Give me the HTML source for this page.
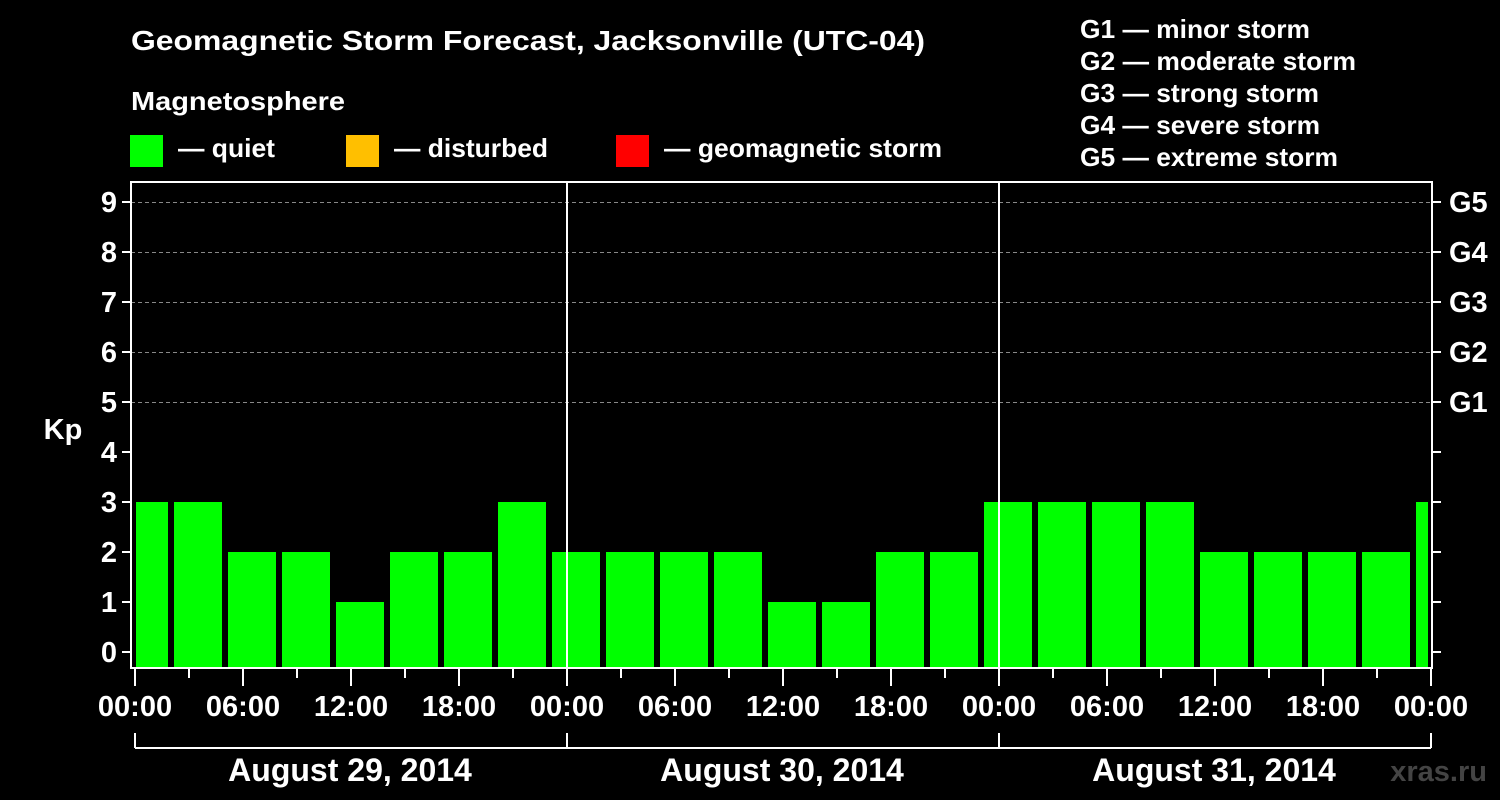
<!DOCTYPE html>
<html><head><meta charset="utf-8"><style>
html,body{margin:0;padding:0;background:#000;}
svg{display:block;font-family:"Liberation Sans",Arial,sans-serif;font-weight:bold;}
</style></head><body>
<svg width="1500" height="800" viewBox="0 0 1500 800">
<rect width="1500" height="800" fill="#000"/>
<g fill="#fff" lengthAdjust="spacingAndGlyphs">
<text x="131" y="50" font-size="28" textLength="794" lengthAdjust="spacingAndGlyphs">Geomagnetic Storm Forecast, Jacksonville (UTC-04)</text>
<text x="131" y="110" font-size="26" textLength="214" lengthAdjust="spacingAndGlyphs">Magnetosphere</text>
<text x="178" y="157" font-size="26" textLength="97" lengthAdjust="spacingAndGlyphs">— quiet</text>
<text x="394" y="157" font-size="26" textLength="154" lengthAdjust="spacingAndGlyphs">— disturbed</text>
<text x="664" y="157" font-size="26" textLength="278" lengthAdjust="spacingAndGlyphs">— geomagnetic storm</text>
<text x="1080" y="38" font-size="26" textLength="230" lengthAdjust="spacingAndGlyphs">G1 — minor storm</text>
<text x="1080" y="70" font-size="26" textLength="276" lengthAdjust="spacingAndGlyphs">G2 — moderate storm</text>
<text x="1080" y="102" font-size="26" textLength="239" lengthAdjust="spacingAndGlyphs">G3 — strong storm</text>
<text x="1080" y="134" font-size="26" textLength="240" lengthAdjust="spacingAndGlyphs">G4 — severe storm</text>
<text x="1080" y="166" font-size="26" textLength="258" lengthAdjust="spacingAndGlyphs">G5 — extreme storm</text>
</g>
<rect x="130" y="135" width="33" height="32" fill="#00ff00"/>
<rect x="346" y="135" width="33" height="32" fill="#ffbf00"/>
<rect x="616" y="135" width="33" height="32" fill="#ff0000"/>
<g stroke="#888" stroke-width="1" stroke-dasharray="4,3">
<line x1="131" x2="1432" y1="202.5" y2="202.5"/>
<line x1="131" x2="1432" y1="252.5" y2="252.5"/>
<line x1="131" x2="1432" y1="302.5" y2="302.5"/>
<line x1="131" x2="1432" y1="352.5" y2="352.5"/>
<line x1="131" x2="1432" y1="402.5" y2="402.5"/>
</g>
<g fill="#00ff00" id="bars"></g>
<g stroke="#fff" stroke-width="2" fill="none">
<rect x="131" y="182" width="1301" height="486"/>
<line x1="567" y1="182" x2="567" y2="668"/>
<line x1="999" y1="182" x2="999" y2="668"/>
<path d="M135 748H1431M135 733V748M567 733V748M999 733V748M1431 733V748"/>
</g>
<g id="ticks" stroke="#fff" stroke-width="2"></g>
<g fill="#fff" font-size="29" text-anchor="end" id="ylab"></g>
<g fill="#fff" font-size="29" id="glab"></g>
<g fill="#fff" font-size="29" text-anchor="middle" id="xlab"></g>
<text x="63" y="439" fill="#fff" font-size="29" text-anchor="middle">Kp</text>
<g fill="#fff" font-size="32" text-anchor="middle">
<text x="350" y="781">August 29, 2014</text>
<text x="782" y="781">August 30, 2014</text>
<text x="1214" y="781">August 31, 2014</text>
</g>
<text x="1487" y="781" fill="#444" font-size="29" text-anchor="end">xras.ru</text>
<script>
var ns="http://www.w3.org/2000/svg";
function el(p,t,a,txt){var e=document.createElementNS(ns,t);for(var k in a)e.setAttribute(k,a[k]);if(txt!=null)e.textContent=txt;document.getElementById(p).appendChild(e);}
var v=[3,3,2,2,1,2,2,3,2,2,2,2,1,1,2,2,3,3,3,3,2,2,2,2,3];
for(var k=0;k<25;k++){var x0=120+54*k,x1=x0+48;if(x0<136)x0=136;if(x1>1428)x1=1428;var t=652-50*v[k];el("bars","rect",{x:x0,y:t,width:x1-x0,height:668-t});}
for(var i=0;i<=9;i++){var y=652-50*i;el("ticks","line",{x1:122,x2:131,y1:y,y2:y});el("ticks","line",{x1:1432,x2:1441,y1:y,y2:y});el("ylab","text",{x:117,y:y+10},String(i));}
var g=["G1","G2","G3","G4","G5"];for(var i=0;i<5;i++){el("glab","text",{x:1449,y:652-50*(i+5)+10},g[i]);}
var lab=["00:00","06:00","12:00","18:00"];
for(var h=0;h<=24;h++){var x=135+54*h;el("ticks","line",{x1:x,x2:x,y1:668,y2:h%2==0?686:678});
if(h%2==0){el("xlab","text",{x:x,y:716},h==24?"00:00":lab[(h/2)%4]);}}
</script>
</svg>
</body></html>
